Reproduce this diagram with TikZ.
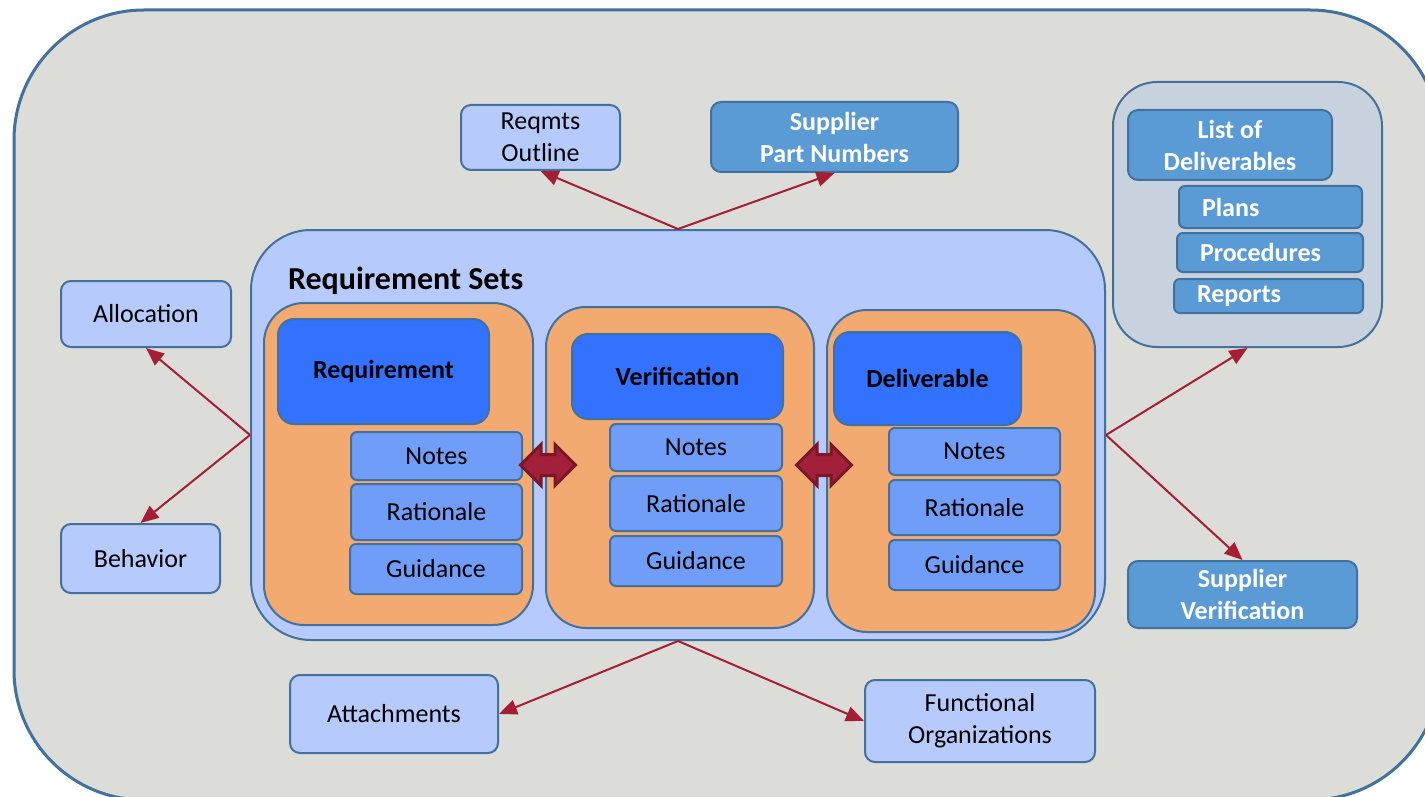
\documentclass[tikz,border=0pt]{standalone}
\usepackage{fontspec}
\setmainfont{Carlito}
\usetikzlibrary{arrows.meta,shapes.arrows}

\definecolor{bggray}{RGB}{220,220,216}
\definecolor{edgeblue}{RGB}{65,113,156}
\definecolor{lightblue}{RGB}{182,203,252}
\definecolor{deepblue}{RGB}{51,114,255}
\definecolor{midblue}{RGB}{111,157,247}
\definecolor{accblue}{RGB}{91,155,213}
\definecolor{setorange}{RGB}{242,170,112}
\definecolor{grpgray}{RGB}{200,210,222}
\definecolor{linkred}{RGB}{165,30,52}
\definecolor{darkred}{RGB}{123,24,40}
\definecolor{arrred}{RGB}{163,32,58}

\tikzset{
  panel/.style={draw=edgeblue, line width=1pt, rounded corners=5pt, align=center,
    inner sep=2pt, font=\fontsize{13}{16}\selectfont},
  outbox/.style={panel, fill=lightblue},
  accbox/.style={panel, fill=accblue, text=white, font=\fontsize{13}{16}\selectfont\bfseries},
  listbox/.style={accbox, rounded corners=3pt, align=left, inner xsep=11.5pt},
  itembox/.style={panel, fill=midblue, rounded corners=3pt},
  headbox/.style={panel, fill=deepblue, rounded corners=8pt, font=\fontsize{13}{16}\selectfont\bfseries},
  setbox/.style={draw=edgeblue, line width=1pt, fill=setorange, rounded corners=20pt},
  link/.style={draw=linkred, line width=1pt, -{Triangle[length=9pt,width=7.5pt]}},
  xchg/.style={double arrow, draw=darkred, line width=1.5pt, fill=arrred,
    double arrow head extend=5pt, inner sep=4.5pt},
}

\begin{document}
\begin{tikzpicture}[x=0.5pt, y=-0.5pt]
  \useasboundingbox (0,0) rectangle (1425,797);
  % background frame
  \draw[edgeblue, line width=1.5pt, fill=bggray, rounded corners=65pt] (14,10) rectangle (1440,800);

  % requirement sets container
  \node[draw=edgeblue, line width=1pt, fill=lightblue, rounded corners=30pt,
        minimum width=427pt, minimum height=205pt] (rs) at (678,435) {};
  \node[anchor=west, font=\fontsize{16}{19}\selectfont\bfseries] (rstitle) at (281,281) {Requirement Sets};

  % the three sets
  \node[setbox, minimum width=134.5pt, minimum height=161pt] (set1) at (398.5,464) {};
  \node[setbox, minimum width=134pt, minimum height=160.5pt] (set2) at (680,467.5) {};
  \node[setbox, minimum width=134pt, minimum height=161pt] (set3) at (961,471) {};

  \node[headbox, minimum width=105.5pt, minimum height=52.5pt] (req) at (383.5,371.5) {Requirement};
  \node[headbox, minimum width=105.5pt, minimum height=42.5pt] (ver) at (677.5,376.5) {Verification};
  \node[headbox, minimum width=93.5pt, minimum height=46.5pt] (del) at (927.5,378.5) {Deliverable};

  % notes / rationale / guidance
  \node[itembox, minimum width=85.5pt, minimum height=24pt]   (notes1) at (436.5,456) {Notes};
  \node[itembox, minimum width=85.5pt, minimum height=28pt]   (rat1)   at (436.5,512) {Rationale};
  \node[itembox, minimum width=86pt,   minimum height=25pt]   (guid1)  at (436,569)   {Guidance};
  \node[itembox, minimum width=86pt,   minimum height=23.5pt] (notes2) at (696,447.5) {Notes};
  \node[itembox, minimum width=86pt,   minimum height=27.5pt] (rat2)   at (696,503.5) {Rationale};
  \node[itembox, minimum width=86pt,   minimum height=25pt]   (guid2)  at (696,561)   {Guidance};
  \node[itembox, minimum width=85.5pt, minimum height=23.5pt] (notes3) at (974.5,451.5) {Notes};
  \node[itembox, minimum width=85.5pt, minimum height=27.5pt] (rat3)   at (974.5,507.5) {Rationale};
  \node[itembox, minimum width=85.5pt, minimum height=25pt]   (guid3)  at (974.5,565) {Guidance};

  % links between sets
  \node[xchg, minimum height=27.5pt] (x12) at (548,465) {};
  \node[xchg, minimum height=27.5pt] (x23) at (824,465) {};

  % surrounding items
  \node[outbox, minimum width=85pt,    minimum height=33pt]   (alloc)   at (146,314)   {Allocation};
  \node[outbox, minimum width=79.5pt,  minimum height=34.5pt] (behav)   at (140.5,558.5) {Behavior};
  \node[outbox, minimum width=104pt,   minimum height=39pt]   (attach)  at (394,714)   {Attachments};
  \node[outbox, minimum width=115pt,   minimum height=41pt]   (func)    at (980,721)   {Functional\\Organizations};
  \node[outbox, minimum width=79.5pt,  minimum height=32.5pt] (outline) at (540.5,137.5) {Reqmts\\Outline};
  \node[accbox, minimum width=123.5pt, minimum height=35pt]   (spn)     at (834.5,137) {Supplier\\Part Numbers};
  \node[accbox, minimum width=114.5pt, minimum height=33.5pt] (sver)    at (1242.5,594.5) {Supplier\\Verification};

  % deliverables group
  \node[draw=edgeblue, line width=1pt, fill=grpgray, rounded corners=22pt,
        minimum width=134.5pt, minimum height=132.5pt] (dgrp) at (1247.5,214.5) {};
  \node[accbox, minimum width=102pt, minimum height=35pt] (lod) at (1230,145) {List of\\Deliverables};
  \node[listbox, text width=68.5pt, minimum height=21pt]   (plans) at (1270.5,207) {Plans};
  \node[listbox, text width=70pt,   minimum height=19.5pt] (proc)  at (1270,252.5) {Procedures};
  \node[listbox, text width=71.5pt, minimum height=17pt]   (reps)  at (1268.5,296) {Reports};

  % connectors
  \draw[link] (rs.west)  -- (alloc.south);
  \draw[link] (rs.west)  -- (behav.north);
  \draw[link] (rs.north) -- (outline.south);
  \draw[link] (rs.north) -- (spn.south);
  \draw[link] (rs.east)  -- (dgrp.south);
  \draw[link] (rs.east)  -- (sver.north);
  \draw[link] (rs.south) -- (attach.east);
  \draw[link] (rs.south) -- (func.west);
\end{tikzpicture}
\end{document}
